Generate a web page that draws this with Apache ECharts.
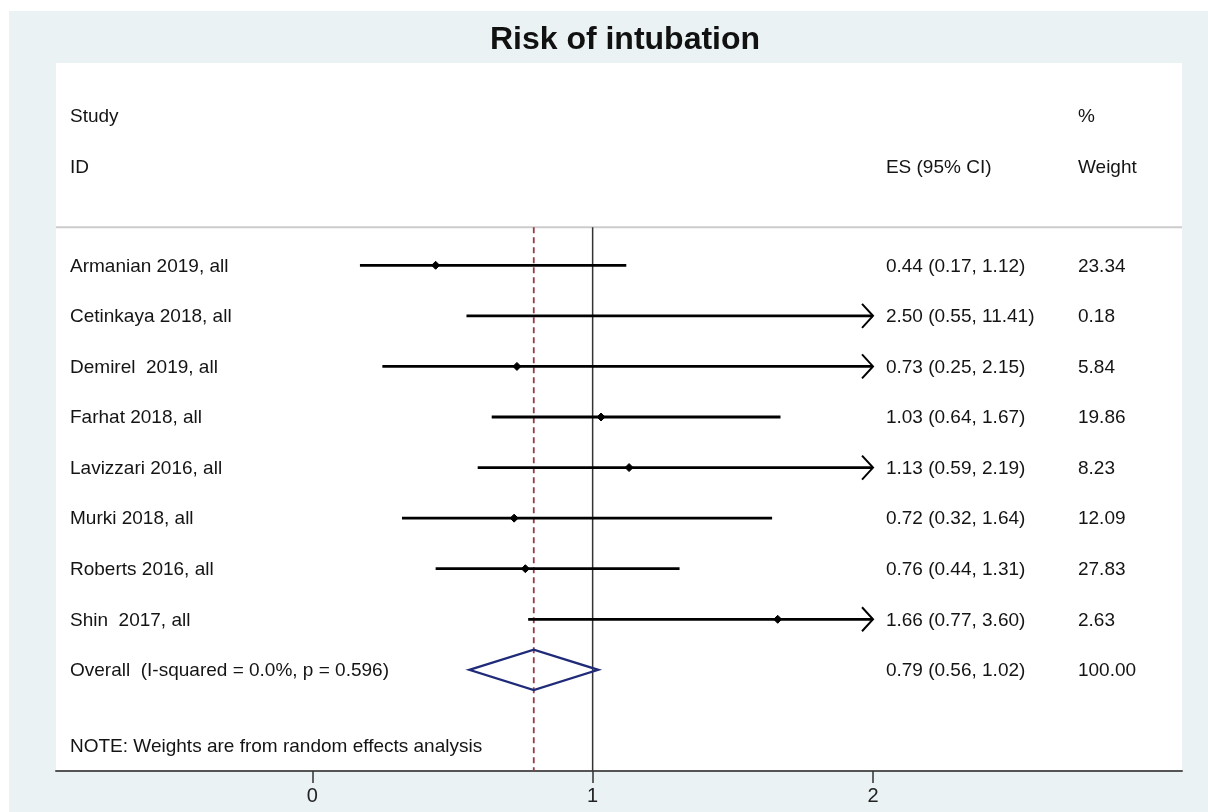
<!DOCTYPE html>
<html>
<head>
<meta charset="utf-8">
<script src="https://cdn.jsdelivr.net/npm/echarts@6/dist/echarts.min.js"></script>
<style>
  html, body { margin: 0; padding: 0; background: #ffffff; }
  #chart { width: 1208px; height: 812px; }
</style>
</head>
<body>
<div id="chart"></div>
<script>
// ---------------- data ----------------
const studies = [
  'Armanian 2019, all',
  'Cetinkaya 2018, all',
  'Demirel  2019, all',
  'Farhat 2018, all',
  'Lavizzari 2016, all',
  'Murki 2018, all',
  'Roberts 2016, all',
  'Shin  2017, all'
];
const es      = [0.44, 2.50, 0.73, 1.03, 1.13, 0.72, 0.76, 1.66];
const ciLow   = [0.17, 0.55, 0.25, 0.64, 0.59, 0.32, 0.44, 0.77];
const ciHigh  = [1.12, 11.41, 2.15, 1.67, 2.19, 1.64, 1.31, 3.60];
const weights = ['23.34', '0.18', '5.84', '19.86', '8.23', '12.09', '27.83', '2.63'];

const overallLabel  = 'Overall  (I-squared = 0.0%, p = 0.596)';
const overallEs     = 0.79;
const overallLow    = 0.56;
const overallHigh   = 1.02;
const overallWeight = '100.00';

const noteText      = 'NOTE: Weights are from random effects analysis';
const headerStudy   = ['Study', 'ID'];
const headerEs      = 'ES (95% CI)';
const headerWeight  = ['%', 'Weight'];
const xTicks        = [0, 1, 2];
const nullValue     = 1;

// ---------------- layout ----------------
const X_MIN = -0.914, X_MAX = 3.102, CLIP = 2.0;
const COL_LABEL = -0.864, COL_ES = 2.046, COL_W = 2.731;
const ROW_H1 = -2.95, ROW_H2 = -1.94, ROW_DIV = -0.75, ROW_OVERALL = 8, ROW_NOTE = 9.5;
const FONT = '19px "Liberation Sans", Arial, sans-serif';
const TXT = '#141414';
const TEXT_DY = 1;

function fmt(v) { return v.toFixed(2); }

// text items
const textItems = [];
textItems.push({ x: COL_LABEL, y: ROW_H1, t: headerStudy[0] });
textItems.push({ x: COL_LABEL, y: ROW_H2, t: headerStudy[1] });
textItems.push({ x: COL_ES, y: ROW_H2, t: headerEs });
textItems.push({ x: COL_W, y: ROW_H1, t: headerWeight[0] });
textItems.push({ x: COL_W, y: ROW_H2, t: headerWeight[1] });
studies.forEach((s, i) => {
  textItems.push({ x: COL_LABEL, y: i, t: s });
  textItems.push({ x: COL_ES, y: i, t: fmt(es[i]) + ' (' + fmt(ciLow[i]) + ', ' + fmt(ciHigh[i]) + ')' });
  textItems.push({ x: COL_W, y: i, t: weights[i] });
});
textItems.push({ x: COL_LABEL, y: ROW_OVERALL, t: overallLabel });
textItems.push({ x: COL_ES, y: ROW_OVERALL, t: fmt(overallEs) + ' (' + fmt(overallLow) + ', ' + fmt(overallHigh) + ')' });
textItems.push({ x: COL_W, y: ROW_OVERALL, t: overallWeight });
textItems.push({ x: COL_LABEL, y: ROW_NOTE, t: noteText });

const chart = echarts.init(document.getElementById('chart'), null, { renderer: 'canvas' });

const option = {
  animation: false,
  backgroundColor: '#ffffff',
  graphic: [{
    type: 'rect', z: -10, silent: true,
    shape: { x: 9, y: 11, width: 1199, height: 801 },
    style: { fill: '#eaf2f3' }
  }],
  title: {
    text: 'Risk of intubation',
    left: 620, top: 19, textAlign: 'center',
    textStyle: { fontSize: 32, fontWeight: 'bold', color: '#111', fontFamily: '"Liberation Sans", Arial, sans-serif' }
  },
  grid: {
    left: 56, right: 26, top: 63, bottom: 41,
    show: true, backgroundColor: '#ffffff', borderWidth: 0
  },
  xAxis: {
    type: 'value', min: X_MIN, max: X_MAX,
    axisLine: { show: true, onZero: false, lineStyle: { color: '#555', width: 2 } },
    axisTick: { show: true, customValues: xTicks, length: 12, lineStyle: { color: '#333', width: 1.5 } },
    axisLabel: { show: true, customValues: xTicks, margin: 15, fontSize: 20, color: '#222',
      fontFamily: '"Liberation Sans", Arial, sans-serif' },
    splitLine: { show: false }
  },
  yAxis: {
    type: 'value', min: -4, max: 10, inverse: true, show: false,
    splitLine: { show: false }
  },
  series: [
    // header divider + reference lines
    {
      type: 'custom', name: 'refs', z: 1,
      data: [[nullValue, overallEs]],
      renderItem: function (params, api) {
        const xN = api.coord([api.value(0), 0])[0];
        const xO = api.coord([api.value(1), 0])[0];
        const yTop = api.coord([0, ROW_DIV])[1];
        const yBot = api.coord([0, 10])[1];
        const xL = api.coord([X_MIN, 0])[0];
        const xR = api.coord([X_MAX, 0])[0];
        return { type: 'group', children: [
          { type: 'line', shape: { x1: xL, y1: yTop, x2: xR, y2: yTop }, style: { stroke: '#cccccc', lineWidth: 2 } },
          { type: 'line', shape: { x1: xN, y1: yTop, x2: xN, y2: yBot }, style: { stroke: '#333333', lineWidth: 1.5 } },
          { type: 'line', shape: { x1: xO, y1: yTop, x2: xO, y2: yBot }, style: { stroke: '#9b3a44', lineWidth: 1.8, lineDash: [6, 4] } }
        ]};
      }
    },
    // study CIs
    {
      type: 'custom', name: 'studies', z: 3,
      data: studies.map((s, i) => [ciLow[i], ciHigh[i], es[i], i]),
      renderItem: function (params, api) {
        const lo = api.value(0), hi = api.value(1), e = api.value(2), row = api.value(3);
        const y = api.coord([0, row])[1];
        const xl = api.coord([lo, row])[0];
        const xr = api.coord([Math.min(hi, CLIP), row])[0];
        const children = [
          { type: 'line', shape: { x1: xl, y1: y, x2: xr, y2: y }, style: { stroke: '#000', lineWidth: 2.8 } }
        ];
        if (hi > CLIP) {
          children.push({ type: 'polyline', shape: { points: [[xr - 11, y - 12], [xr, y], [xr - 11, y + 12]] },
            style: { stroke: '#000', lineWidth: 2, fill: null } });
        }
        if (e <= CLIP) {
          const xe = api.coord([e, row])[0];
          children.push({ type: 'polygon', shape: { points: [[xe - 4, y], [xe, y - 4], [xe + 4, y], [xe, y + 4]] },
            style: { fill: '#000', stroke: '#000', lineWidth: 1 } });
        }
        return { type: 'group', children: children };
      }
    },
    // overall diamond
    {
      type: 'custom', name: 'overall', z: 4,
      data: [[overallLow, overallHigh, overallEs, ROW_OVERALL]],
      renderItem: function (params, api) {
        const lo = api.value(0), hi = api.value(1), e = api.value(2), row = api.value(3);
        const y = api.coord([0, row])[1];
        const yT = api.coord([0, row - 0.4])[1];
        const yB = api.coord([0, row + 0.4])[1];
        const xl = api.coord([lo, row])[0];
        const xr = api.coord([hi, row])[0];
        const xe = api.coord([e, row])[0];
        return { type: 'polygon', shape: { points: [[xl, y], [xe, yT], [xr, y], [xe, yB]] },
          style: { fill: 'rgba(0,0,0,0)', stroke: '#1f2a78', lineWidth: 2.3 } };
      }
    },
    // texts
    {
      type: 'custom', name: 'texts', z: 5,
      data: textItems.map(d => [d.x, d.y]),
      renderItem: function (params, api) {
        const p = api.coord([api.value(0), api.value(1)]);
        return { type: 'text', x: p[0], y: p[1] + TEXT_DY,
          style: { text: textItems[params.dataIndex].t, fill: TXT, font: FONT, align: 'left', verticalAlign: 'middle' } };
      }
    }
  ]
};
chart.setOption(option);
</script>
</body>
</html>
